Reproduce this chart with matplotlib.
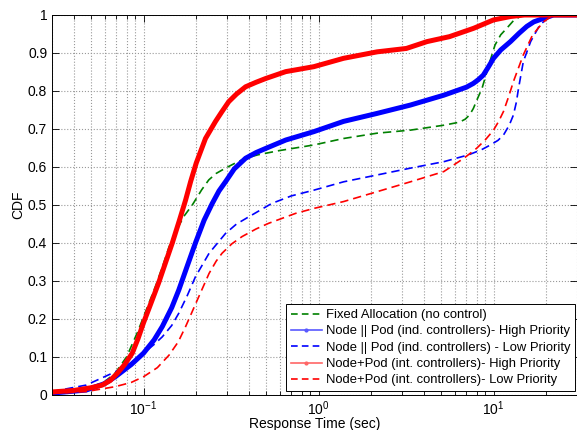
import matplotlib
matplotlib.use('Agg')
from matplotlib import pyplot as plt
from matplotlib.lines import Line2D
from matplotlib.ticker import FixedLocator, FuncFormatter, LogLocator

plt.rcParams['font.family'] = ['Liberation Sans', 'DejaVu Sans']
plt.rcParams['mathtext.fontset'] = 'custom'
plt.rcParams['mathtext.rm'] = 'Liberation Sans'

# values (response time in sec, CDF)
fixed_x = [0.03, 0.047, 0.06, 0.069, 0.08, 0.092, 0.105, 0.118, 0.13, 0.14, 0.155, 0.17, 0.19,
           0.215, 0.236, 0.26, 0.294, 0.34, 0.383, 0.45, 0.594, 0.94, 1.39, 2.16, 3.35, 5.2,
           6.4, 6.9, 7.3, 7.67, 8.1, 8.6, 9.4, 10.2, 11, 11.9, 13, 14.2, 16, 30]
fixed_y = [0.005, 0.015, 0.035, 0.058, 0.1, 0.163, 0.23, 0.29, 0.345, 0.39, 0.435, 0.47, 0.5,
           0.54, 0.566, 0.583, 0.597, 0.612, 0.623, 0.632, 0.643, 0.658, 0.675, 0.689, 0.697, 0.71,
           0.718, 0.726, 0.737, 0.754, 0.78, 0.807, 0.868, 0.921, 0.948, 0.965, 0.985, 0.996, 1, 1]

ind_high_x = [0.03, 0.047, 0.06, 0.069, 0.085, 0.1, 0.115, 0.128, 0.145, 0.159, 0.178, 0.198,
              0.222, 0.247, 0.27, 0.294, 0.33, 0.383, 0.44, 0.5, 0.65, 0.94, 1.39, 2.16, 3.35,
              5.2, 7.0, 7.67, 8.2, 8.75, 9.4, 10, 11, 12.5, 14, 15.5, 17, 19.3, 22, 30]
ind_high_y = [0.005, 0.013, 0.03, 0.048, 0.08, 0.11, 0.145, 0.18, 0.23, 0.276, 0.34, 0.40,
              0.46, 0.504, 0.537, 0.561, 0.595, 0.623, 0.638, 0.649, 0.671, 0.693, 0.72, 0.741, 0.763,
              0.789, 0.81, 0.82, 0.83, 0.842, 0.865, 0.886, 0.908, 0.93, 0.952, 0.97, 0.982, 0.991, 1, 1]

ind_low_x = [0.03, 0.047, 0.069, 0.085, 0.1, 0.115, 0.128, 0.145, 0.159, 0.178, 0.198, 0.237,
             0.294, 0.34, 0.4, 0.54, 0.7, 0.94, 1.39, 2.16, 3.35, 5.2, 7.2, 8.5, 9.6, 10.6, 11.4,
             12.3, 13.0, 13.5, 13.9, 14.8, 16.3, 18.4, 21, 24, 30]
ind_low_y = [0.009, 0.026, 0.061, 0.085, 0.11, 0.133, 0.153, 0.183, 0.215, 0.262, 0.311, 0.373,
             0.425, 0.45, 0.469, 0.504, 0.524, 0.539, 0.561, 0.579, 0.597, 0.614, 0.632, 0.645, 0.658, 0.67, 0.684,
             0.71, 0.737, 0.77, 0.807, 0.877, 0.93, 0.974, 0.996, 1, 1]

int_high_x = [0.03, 0.04, 0.05, 0.058, 0.0645, 0.0708, 0.078, 0.0862, 0.093, 0.1, 0.11, 0.122,
              0.134, 0.146, 0.16, 0.174, 0.186, 0.2, 0.226, 0.258, 0.28, 0.307, 0.34, 0.383,
              0.44, 0.5, 0.65, 0.94, 1.39, 2.16, 3.18, 4.17, 5.6, 7.7, 10, 12.5, 15, 30]
int_high_y = [0.008, 0.012, 0.019, 0.026, 0.038, 0.057, 0.08, 0.11, 0.148, 0.19, 0.24, 0.295,
              0.35, 0.40, 0.458, 0.513, 0.562, 0.61, 0.675, 0.72, 0.745, 0.772, 0.792, 0.811,
              0.823, 0.833, 0.851, 0.864, 0.886, 0.903, 0.912, 0.93, 0.943, 0.965, 0.987, 0.996, 1, 1]

int_low_x = [0.03, 0.047, 0.069, 0.085, 0.1, 0.12, 0.14, 0.158, 0.174, 0.203, 0.237, 0.26, 0.281,
             0.32, 0.366, 0.44, 0.52, 0.74, 0.94, 1.39, 2.16, 3.35, 5.2, 6.77, 8.0, 9.0, 10, 10.7,
             11.4, 12.2, 13, 14.8, 16.7, 19.3, 22, 30]
int_low_y = [0.004, 0.009, 0.022, 0.033, 0.048, 0.072, 0.105, 0.14, 0.18, 0.25, 0.32, 0.352, 0.373,
             0.398, 0.417, 0.437, 0.452, 0.478, 0.491, 0.509, 0.535, 0.561, 0.588, 0.623, 0.649, 0.672, 0.697, 0.72,
             0.746, 0.785, 0.825, 0.895, 0.947, 0.982, 1, 1]

labels = ['Fixed Allocation (no control)',
          'Node || Pod (ind. controllers)- High Priority',
          'Node || Pod (ind. controllers) - Low Priority',
          'Node+Pod (int. controllers)- High Priority',
          'Node+Pod (int. controllers)- Low Priority']

GREEN = (0, 0.5, 0)
BLUE = (0, 0, 1)
RED = (1, 0, 0)

fig = plt.figure(figsize=(5.77, 4.30), dpi=100)
ax = fig.add_axes([52 / 577, 35 / 430, 525 / 577, 380 / 430])

ax.plot(fixed_x, fixed_y, color=GREEN, lw=1.2, dashes=(5, 3))
ax.plot(ind_high_x, ind_high_y, color=BLUE, lw=3.6, solid_capstyle='round', solid_joinstyle='round')
ax.plot(ind_low_x, ind_low_y, color=BLUE, lw=1.2, dashes=(5, 3))
ax.plot(int_high_x, int_high_y, color=RED, lw=3.6, solid_capstyle='round', solid_joinstyle='round')
ax.plot(int_low_x, int_low_y, color=RED, lw=1.2, dashes=(5, 3))

ax.set_xscale('log')
ax.set_xlim(0.03, 30)
ax.set_ylim(0, 1)
ax.yaxis.set_major_locator(FixedLocator([i / 10 for i in range(11)]))
ax.yaxis.set_major_formatter(FuncFormatter(lambda v, p: '%g' % round(v, 1)))
ax.xaxis.set_minor_locator(LogLocator(base=10, subs=range(2, 10)))

ax.grid(True, which='major', color='#999999', linestyle=':', linewidth=0.8)
ax.grid(True, which='minor', axis='x', color='#999999', linestyle=':', linewidth=0.8)
ax.tick_params(which='both', direction='in', top=True, right=True, labelsize=10, width=0.6)
ax.tick_params(which='major', length=5)
ax.tick_params(which='minor', length=3)
ax.tick_params(axis='x', pad=3)
for s in ax.spines.values():
    s.set_linewidth(0.7)

ax.set_xlabel('Response Time (sec)', fontsize=10, va='top')
ax.xaxis.set_label_coords(0.5, -0.057)
ax.set_ylabel('CDF', fontsize=10, labelpad=2)

handles = [Line2D([], [], color=GREEN, lw=1.2, dashes=(4, 2.5)),
           Line2D([], [], color=(0.35, 0.35, 1), lw=1.2, marker='.', markersize=4),
           Line2D([], [], color=BLUE, lw=1.2, dashes=(4, 2.5)),
           Line2D([], [], color=(1, 0.4, 0.4), lw=1.2, marker='.', markersize=4),
           Line2D([], [], color=RED, lw=1.2, dashes=(4, 2.5))]
leg = ax.legend(handles, labels, loc='lower right', bbox_to_anchor=(0.996, 0.0105),
                fontsize=9.4, handlelength=2.4, handletextpad=0.3, labelspacing=0.32,
                borderpad=0.35, borderaxespad=0, fancybox=False, framealpha=1, edgecolor='black')
leg.get_frame().set_linewidth(0.7)

fig.savefig('out.png', dpi=100)
